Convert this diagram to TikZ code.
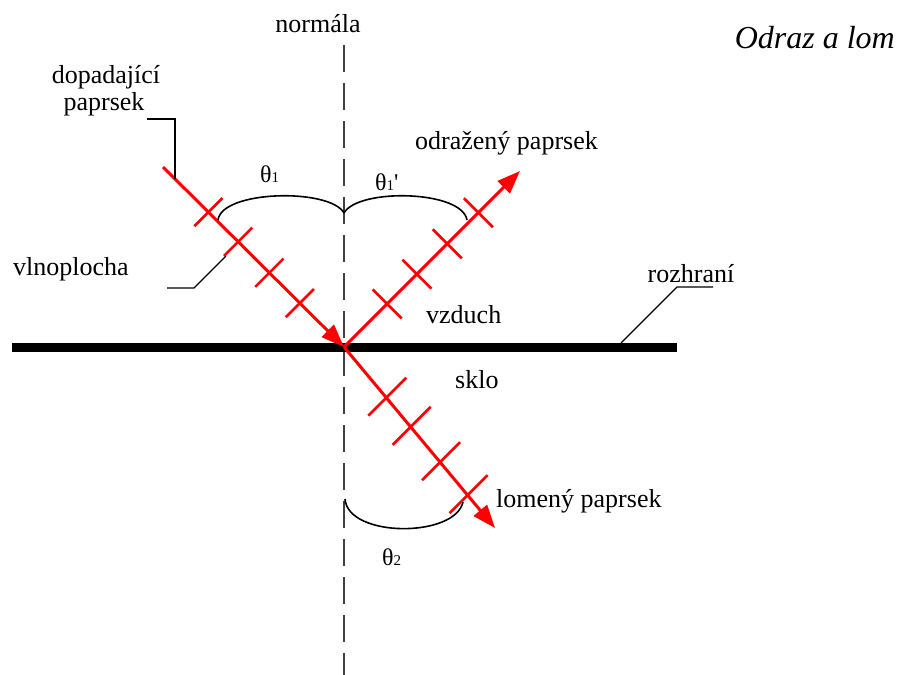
\documentclass[tikz,border=0pt]{standalone}
\usepackage{fontspec}
\setmainfont{Liberation Serif}
\usetikzlibrary{arrows.meta,calc}
\begin{document}
\begin{tikzpicture}[x=1pt,y=-1pt,
  lbl/.style={font=\fontsize{26}{28}\selectfont, inner sep=0pt, anchor=base},
  ttl/.style={font=\fontsize{32}{34}\selectfont\itshape, inner sep=0pt, anchor=base east},
  thlbl/.style={font=\fontsize{24}{26}\selectfont, inner sep=0pt, anchor=base west},
  ray/.style={red, line width=3pt},
  rayarrow/.style={ray, -{Triangle[length=23pt,width=17pt]}},
  wtick/.style={red, line width=2.6pt},
  normline/.style={black!75, line width=1.8pt, dash pattern=on 27pt off 11pt},
  iface/.style={black, line width=9pt},
  leader/.style={black, line width=1.4pt},
  brace/.style={black, line width=1.6pt}
]
\useasboundingbox (0,0) rectangle (898,675);
\newcommand{\subn}[1]{{\fontsize{15}{15}\selectfont #1}}

% key points
\coordinate (ntop) at (344,45);
\coordinate (nbot) at (344,675);
\coordinate (ifl) at (12,347.5);
\coordinate (ifr) at (677,347.5);
\coordinate (I) at (163,167);
\coordinate (O) at (344,347);
\coordinate (R) at (520,171);
\coordinate (T) at (495,528);

% normal and interface
\draw[normline] (ntop) -- (nbot);
\draw[iface] (ifl) -- (ifr);

% rays
\draw[rayarrow] (I) -- (O);
\draw[rayarrow] (O) -- (R);
\draw[rayarrow] (O) -- (T);

% wavefront ticks
\foreach \t in {64,106,150,193}
  \draw[wtick] ($(I)!\t pt!(O)$) ++(-14.1,14.1) -- ++(28.2,-28.2);
\foreach \t in {61,103,146,190}
  \draw[wtick] ($(O)!\t pt!(R)$) ++(-14.5,-14.5) -- ++(29,29);
\foreach \t in {66,104,150,193}
  \draw[wtick] ($(O)!\t pt!(T)$) ++(-18,18) -- ++(38,-38);

% angle braces
\coordinate (b1a) at (218,220);
\coordinate (bc) at (344,213);
\coordinate (b1b) at (467,220);
\draw[brace] (b1a) .. controls (222,190) and (330,188) .. (bc);
\draw[brace] (bc) .. controls (358,188) and (462,190) .. (b1b);
\coordinate (b2a) at (345,499);
\coordinate (b2b) at (463,502);
\draw[brace] (b2a) .. controls (348,538) and (455,538) .. (b2b);

% labels
\node[lbl] (normala) at (318,32) {normála};
\node[ttl] (title) at (895,48) {Odraz a lom};
\node[lbl] (dop1) at (106,83) {dopadající};
\node[lbl] (dop2) at (104,110) {paprsek};
\node[lbl, anchor=base west] (vln) at (13,275) {vlnoplocha};
\node[lbl] (rozh) at (691,282) {rozhraní};
\node[lbl, anchor=base west] (odr) at (415,149) {odražený paprsek};
\node[lbl, anchor=base west] (vzd) at (426,323) {vzduch};
\node[lbl, anchor=base west] (skl) at (455,388) {sklo};
\node[lbl, anchor=base west] (lom) at (496,507) {lomený paprsek};
\node[thlbl] (th1) at (260,182) {θ\subn{1}};
\node[thlbl] (th1p) at (375,190) {θ\subn{1}\textquotesingle};
\node[thlbl] (th2) at (382,565) {θ\subn{2}};

% leader lines
\coordinate (l1a) at (147,119);
\coordinate (l1b) at (175,119);
\coordinate (l1c) at (175,179);
\draw[leader] (l1a) -- (l1b) -- (l1c);
\coordinate (l2a) at (167,288);
\coordinate (l2b) at (194,288);
\coordinate (l2c) at (226,256);
\draw[leader] (l2a) -- (l2b) -- (l2c);
\coordinate (l3a) at (713,287);
\coordinate (l3b) at (677,287);
\coordinate (l3c) at (621,343);
\draw[leader] (l3a) -- (l3b) -- (l3c);
\end{tikzpicture}
\end{document}
